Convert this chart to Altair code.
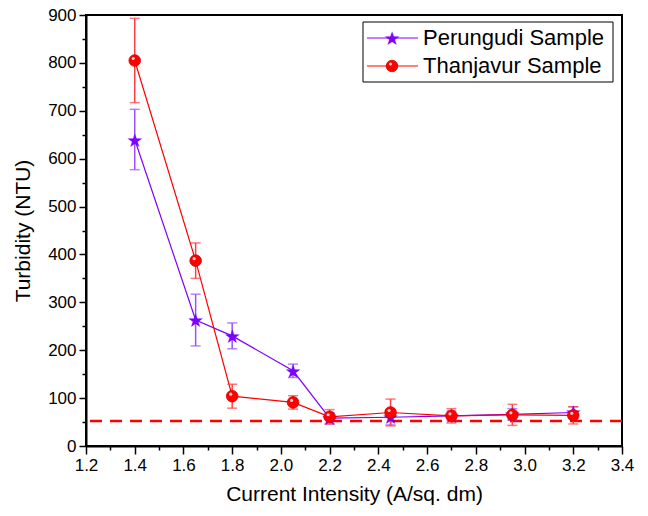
import altair as alt
import pandas as pd

current = [1.4, 1.65, 1.8, 2.05, 2.2, 2.45, 2.7, 2.95, 3.2]
perungudi = [640, 263, 230, 157, 58, 60, 63, 66, 70]
perungudi_err = [63, 54, 27, 14, 12, 16, 10, 12, 12]
thanjavur = [805, 387, 104, 91, 61, 70, 63, 65, 64]
thanjavur_err = [88, 37, 25, 14, 15, 28, 15, 22, 18]
limit_value = [52]
series_names = ["Perungudi Sample", "Thanjavur Sample"]
x_major = [round(1.2 + 0.2 * i, 1) for i in range(12)]
x_minor = [round(1.3 + 0.2 * i, 1) for i in range(11)]
y_major = [100 * i for i in range(10)]
y_minor = [50 + 100 * i for i in range(9)]

PURPLE = "#7f00ff"
RED = "#ff0000"
FONT = "Liberation Sans"


def frame(name, vals, errs):
    return pd.DataFrame({
        "series": name,
        "x": current,
        "y": vals,
        "lo": [v - e for v, e in zip(vals, errs)],
        "hi": [v + e for v, e in zip(vals, errs)],
    })


dp = frame(series_names[0], perungudi, perungudi_err)
dt = frame(series_names[1], thanjavur, thanjavur_err)
limit_df = pd.DataFrame({"y": limit_value})

xscale = alt.Scale(domain=[1.2, 3.4], nice=False, zero=False)
yscale = alt.Scale(domain=[0, 900], nice=False)

x_axis = alt.Axis(values=x_major, format=".1f", tickSize=8, orient="bottom",
                  title="Current Intensity (A/sq. dm)", grid=False,
                  labelFlush=False, labelOverlap=False)
y_axis = alt.Axis(values=y_major, format="d", tickSize=7, orient="left",
                  title="Turbidity (NTU)", grid=False,
                  labelFlush=False, labelOverlap=False)
x_minor_axis = alt.Axis(values=x_minor, labels=False, tickSize=4, orient="bottom",
                        domain=False, title=None, grid=False)
y_minor_axis = alt.Axis(values=y_minor, labels=False, tickSize=4, orient="left",
                        domain=False, title=None, grid=False)

XN = alt.X("x:Q", scale=xscale, axis=None)
YN = alt.Y("y:Q", scale=yscale, axis=None)

major = alt.Chart(dp).mark_line(color=PURPLE, strokeWidth=1.2).encode(
    x=alt.X("x:Q", scale=xscale, axis=x_axis),
    y=alt.Y("y:Q", scale=yscale, axis=y_axis),
)
limit = alt.Chart(limit_df).mark_rule(
    color=RED, strokeWidth=2.5, strokeDash=[12, 8]
).encode(y=alt.Y("y:Q", scale=yscale, axis=y_minor_axis))
line_t = alt.Chart(dt).mark_line(color=RED, strokeWidth=1.2).encode(
    x=alt.X("x:Q", scale=xscale, axis=x_minor_axis), y=YN)


def errbars(d, err_color):
    return alt.Chart(d).mark_errorbar(color=err_color, thickness=1.5,
                                      ticks=alt.MarkConfig(size=10)).encode(
        x=XN, y=alt.Y("lo:Q", scale=yscale, axis=None), y2="hi:Q")


err_p = errbars(dp, "#9a50ff")
err_t = errbars(dt, "#ff4040")

stars = alt.Chart(dp).mark_text(
    text="★", font="DejaVu Sans", fontSize=19, color=PURPLE, baseline="middle", align="center", dy=1
).encode(x=XN, y=YN)

circles = alt.Chart(dt).mark_circle(color=RED, size=135, opacity=1,
                                    stroke="#d00000", strokeWidth=0.8).encode(x=XN, y=YN)
shine = alt.Chart(dt).mark_circle(color="#ffd6d6", size=10, opacity=0.95,
                                  xOffset=-1.5, yOffset=-2).encode(x=XN, y=YN)

# legend (drawn in pixel space of the plot area)
leg_p = pd.DataFrame({"label": [series_names[0]]})
leg_t = pd.DataFrame({"label": [series_names[1]]})
leg_box = alt.Chart(leg_p).mark_rect(fill="white", stroke="black", strokeWidth=1).encode(
    x=alt.value(277), x2=alt.value(527), y=alt.value(7), y2=alt.value(67))
leg_line_p = alt.Chart(leg_p).mark_rule(color=PURPLE, strokeWidth=1.2).encode(
    x=alt.value(281), x2=alt.value(332), y=alt.value(23))
leg_line_t = alt.Chart(leg_t).mark_rule(color=RED, strokeWidth=1.2).encode(
    x=alt.value(281), x2=alt.value(332), y=alt.value(51))
leg_star = alt.Chart(leg_p).mark_text(
    text="★", font="DejaVu Sans", fontSize=19, color=PURPLE, baseline="middle", align="center", dy=1
).encode(x=alt.value(306), y=alt.value(23))
leg_circle = alt.Chart(leg_t).mark_circle(color=RED, size=135, opacity=1,
                                          stroke="#d00000", strokeWidth=0.8).encode(
    x=alt.value(306), y=alt.value(51))
leg_shine = alt.Chart(leg_t).mark_circle(color="#ffd6d6", size=10, opacity=0.95,
                                         xOffset=-1.5, yOffset=-2).encode(
    x=alt.value(306), y=alt.value(51))
leg_text_p = alt.Chart(leg_p).mark_text(
    font=FONT, fontSize=22, align="left", baseline="middle", color="black"
).encode(x=alt.value(337), y=alt.value(23), text="label:N")
leg_text_t = alt.Chart(leg_t).mark_text(
    font=FONT, fontSize=22, align="left", baseline="middle", color="black"
).encode(x=alt.value(337), y=alt.value(51), text="label:N")

chart = alt.layer(
    limit, major, line_t, err_p, err_t, stars, circles, shine,
    leg_box, leg_line_p, leg_line_t, leg_star, leg_circle, leg_shine, leg_text_p, leg_text_t
).resolve_axis(x="independent", y="independent").properties(
    width=536, height=431,
    autosize=alt.AutoSizeParams(type="none"),
    padding={"left": 86, "top": 15, "right": 26, "bottom": 70},
).configure_view(
    stroke="black", strokeWidth=2
).configure_axis(
    domainColor="black", domainWidth=2, tickColor="black", tickWidth=1.5,
    labelFont=FONT, labelFontSize=17, labelColor="black", labelPadding=3,
    titleFont=FONT, titleFontSize=21, titleFontWeight="normal", titleColor="black",
).configure_axisX(titlePadding=10).configure_axisY(titlePadding=14)

chart.save("out.html", embed_options={"renderer": "svg", "actions": False})
